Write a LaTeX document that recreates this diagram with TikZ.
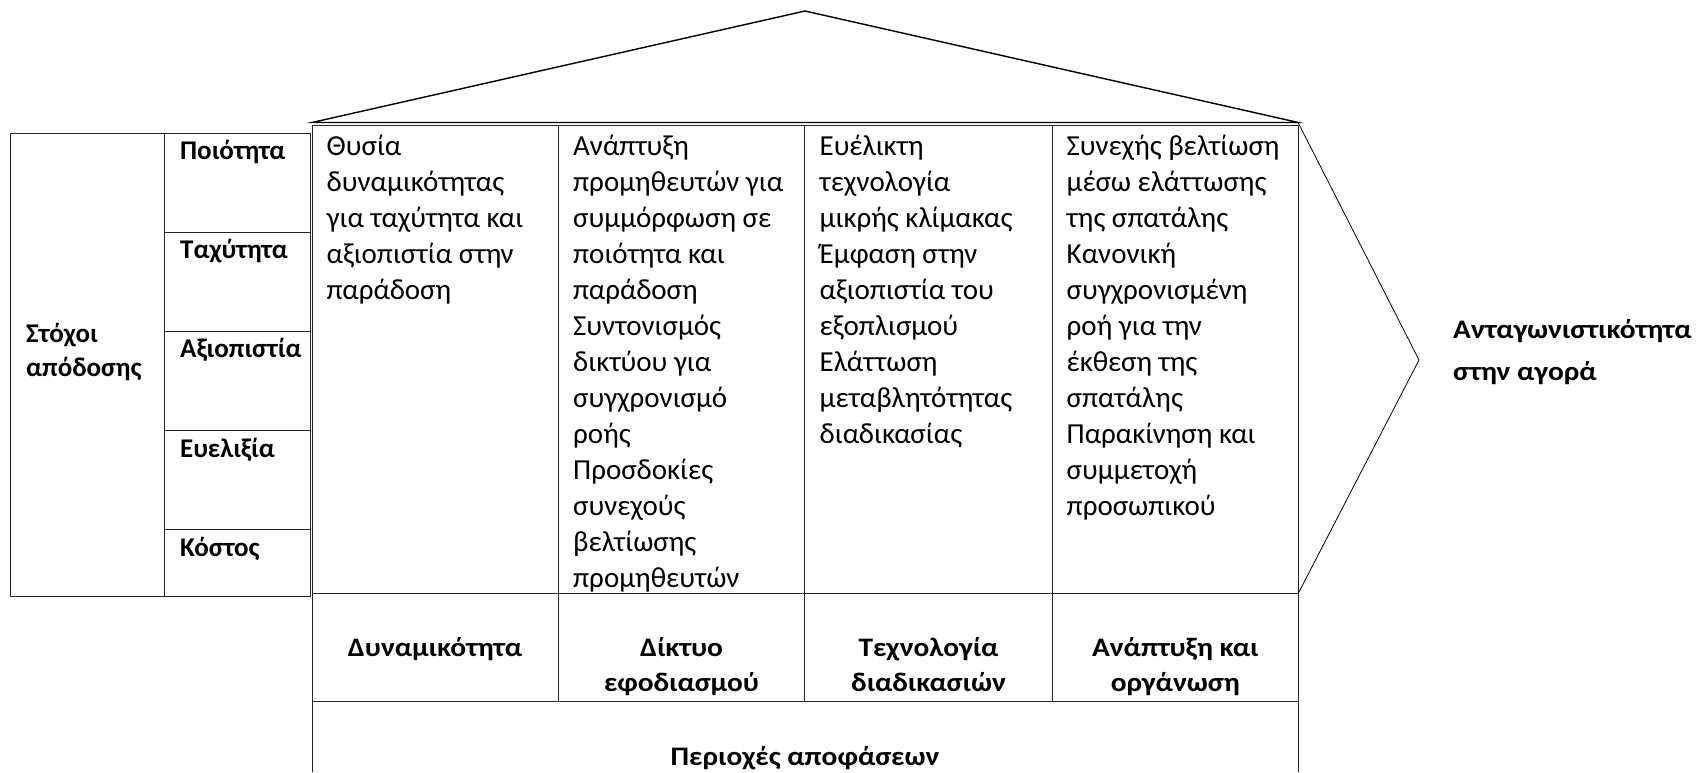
\documentclass[tikz,border=0pt]{standalone}
\usepackage{fontspec}
\setmainfont{Carlito}
\newfontfamily\hbold{Carlito}[FakeStretch=1.1]
\newcommand\firstst{\rule{0pt}{25pt}}
\newcommand\boldst{\rule{0pt}{22pt}}
\begin{document}
\begin{tikzpicture}[x=1pt,y=-1pt,
  frame/.style={draw=black!85,line width=1pt},
  roofline/.style={draw=black,line width=1.4pt,line join=miter},
  chev/.style={draw=black,line width=0.8pt},
  body/.style={font=\fontsize{29}{36}\selectfont,align=left,anchor=north west,inner sep=0pt},
  lab/.style={font=\fontsize{27}{34}\selectfont\bfseries,inner sep=0pt},
  head/.style={font=\hbold\fontsize{26.7}{35}\selectfont\bfseries,inner sep=0pt,align=center,anchor=north},
]
\useasboundingbox (0,0) rectangle (1696,772);
% roof
\draw[roofline] (312,122.5) -- (805,11) -- (1298.3,122.5) -- cycle;
% matrix
\draw[frame] (312,772) -- (312,125.5) -- (1298.3,125.5) -- (1298.3,772);
\draw[frame] (312,593.3) -- (1298.3,593.3);
\draw[frame] (312,701.7) -- (1298.3,701.7);
\foreach \cx in {558.3,804.7,1052.3} \draw[frame] (\cx,125.5) -- (\cx,701.7);
% left box
\draw[frame] (10,133.3) rectangle (310,596);
\draw[frame] (164.3,133.3) -- (164.3,596);
\foreach \ry in {232.3,331.3,430.5,529.7} \draw[frame] (164.3,\ry) -- (310,\ry);
% chevron
\draw[chev] (1298.3,123) -- (1419,360) -- (1298.3,593.3);

% left labels
\node[lab,anchor=north west,align=left] (goals) at (26,320) {\boldst Στόχοι\\απόδοσης};
\node[lab,anchor=base west] (q) at (180,159.8) {Ποιότητα};
\node[lab,anchor=base west] (s) at (180,258.8) {Ταχύτητα};
\node[lab,anchor=base west] (r) at (180,357.8) {Αξιοπιστία};
\node[lab,anchor=base west] (f) at (180,457.2) {Ευελιξία};
\node[lab,anchor=base west] (c) at (180,556.2) {Κόστος};

% matrix texts
\node[body] (t1) at (326.5,130) {\firstst Θυσία\\δυναμικότητας\\για ταχύτητα και\\αξιοπιστία στην\\παράδοση};
\node[body] (t2) at (573,130) {\firstst Ανάπτυξη\\προμηθευτών για\\συμμόρφωση σε\\ποιότητα και\\παράδοση\\Συντονισμός\\δικτύου για\\συγχρονισμό\\ροής\\Προσδοκίες\\συνεχούς\\βελτίωσης\\προμηθευτών};
\node[body] (t3) at (819.5,130) {\firstst Ευέλικτη\\τεχνολογία\\μικρής κλίμακας\\Έμφαση στην\\αξιοπιστία του\\εξοπλισμού\\Ελάττωση\\μεταβλητότητας\\διαδικασίας};
\node[body] (t4) at (1066.5,130) {\firstst Συνεχής βελτίωση\\μέσω ελάττωσης\\της σπατάλης\\Κανονική\\συγχρονισμένη\\ροή για την\\έκθεση της\\σπατάλης\\Παρακίνηση και\\συμμετοχή\\προσωπικού};

% decision areas
\node[head] (h1) at (435,634.7) {\boldst Δυναμικότητα};
\node[head] (h2) at (681.5,634.7) {\boldst Δίκτυο\\εφοδιασμού};
\node[head] (h3) at (928.5,634.7) {\boldst Τεχνολογία\\διαδικασιών};
\node[head] (h4) at (1175.3,634.7) {\boldst Ανάπτυξη και\\οργάνωση};
\node[head,anchor=base] (areas) at (805,765) {Περιοχές αποφάσεων};

% result
\node[head,anchor=north west,align=left,font=\hbold\fontsize{26.7}{42}\selectfont\bfseries] (comp) at (1453,316) {\boldst Ανταγωνιστικότητα\\στην αγορά};
\end{tikzpicture}
\end{document}
